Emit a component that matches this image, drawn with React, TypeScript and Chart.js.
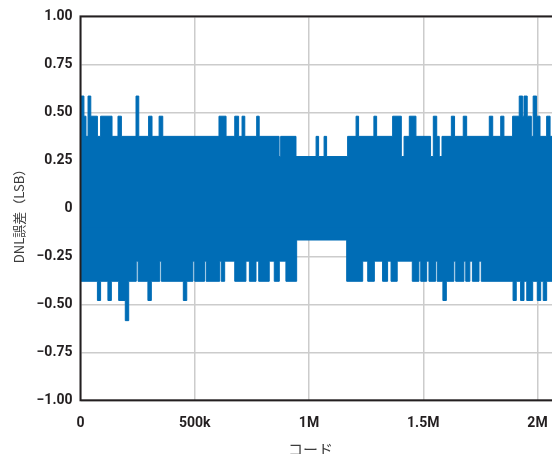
import React, { useEffect, useRef } from "react";
import { Chart, registerables } from "chart.js";

Chart.register(...registerables);

// Upper envelope of the DNL error: code (thousands) where each level starts
const upperCodesK = [
  0, 15, 24, 33, 45, 74, 88, 138, 164, 179, 243, 255, 298, 313, 344, 360,
  606, 637, 675, 692, 707, 719, 771, 782, 869, 876, 943, 1031, 1042, 1066,
  1077, 1169, 1206, 1217, 1284, 1296, 1366, 1404, 1416, 1439, 1468, 1532,
  1544, 1559, 1570, 1582, 1623, 1637, 1675, 1690, 1789, 1804, 1839, 1853,
  1891, 1920, 1935, 1941, 1955, 1973, 1981, 1996, 2011, 2040, 2055,
];
const upperLevels = [
  0.585, 0.48, 0.375, 0.585, 0.48, 0.375, 0.48, 0.375, 0.48, 0.375, 0.585,
  0.375, 0.48, 0.375, 0.48, 0.375, 0.48, 0.375, 0.48, 0.375, 0.48, 0.375,
  0.48, 0.375, 0.27, 0.375, 0.27, 0.375, 0.27, 0.375, 0.27, 0.375, 0.48,
  0.375, 0.48, 0.375, 0.48, 0.27, 0.375, 0.48, 0.375, 0.27, 0.48, 0.375,
  0.27, 0.375, 0.48, 0.375, 0.48, 0.375, 0.48, 0.375, 0.48, 0.375, 0.48,
  0.585, 0.48, 0.585, 0.48, 0.375, 0.585, 0.48, 0.375, 0.48, 0.375,
];

// Lower envelope of the DNL error: code (thousands) where each level starts
const lowerCodesK = [
  0, 74, 88, 120, 135, 167, 196, 211, 244, 252, 295, 310, 347, 354, 450, 465,
  492, 500, 543, 550, 609, 616, 631, 675, 724, 739, 768, 780, 826, 848, 870,
  899, 946, 1165, 1235, 1257, 1286, 1322, 1344, 1359, 1386, 1452, 1481, 1489,
  1515, 1525, 1554, 1561, 1586, 1601, 1634, 1642, 1678, 1686, 1704, 1715,
  1744, 1754, 1893, 1907, 1926, 1941, 1953, 1979, 1999, 2014, 2025, 2040,
];
const lowerLevels = [
  -0.38, -0.48, -0.38, -0.48, -0.38, -0.48, -0.585, -0.38, -0.275, -0.38,
  -0.48, -0.38, -0.275, -0.38, -0.48, -0.38, -0.275, -0.38, -0.275, -0.38,
  -0.275, -0.38, -0.275, -0.38, -0.275, -0.38, -0.275, -0.38, -0.275, -0.38,
  -0.275, -0.38, -0.165, -0.38, -0.275, -0.38, -0.275, -0.38, -0.275, -0.38,
  -0.275, -0.38, -0.275, -0.38, -0.275, -0.38, -0.275, -0.38, -0.48, -0.38,
  -0.275, -0.38, -0.275, -0.38, -0.275, -0.38, -0.275, -0.38, -0.48, -0.38,
  -0.48, -0.38, -0.48, -0.38, -0.48, -0.38, -0.48, -0.38,
];

const lastCode = 2097152;

const xTickValues = [0, 500000, 1000000, 1500000, 2000000];
const xTickLabels = ["0", "500k", "1M", "1.5M", "2M"];
const yTickValues = [-1, -0.75, -0.5, -0.25, 0, 0.25, 0.5, 0.75, 1];
const yTickLabels = ["\u22121.00", "\u22120.75", "\u22120.50", "\u22120.25", "0", "0.25", "0.50", "0.75", "1.00"];

const xTitle = "コード";
const yTitle = "DNL誤差（LSB）";

const BLUE = "#006db6";

function toPoints(codesK: number[], levels: number[]) {
  const pts = codesK.map((k, i) => ({ x: k * 1000, y: levels[i] }));
  pts.push({ x: lastCode, y: levels[levels.length - 1] });
  return pts;
}

export default function App() {
  const ref = useRef<HTMLCanvasElement | null>(null);

  useEffect(() => {
    if (!ref.current) return;
    const tickFont = { family: "Roboto", weight: "bold" as const, size: 14 };
    const framePlugin = {
      id: "frameAndTitles",
      afterDatasetsDraw(chart: any) {
        const { ctx, chartArea: a } = chart;
        ctx.save();
        ctx.strokeStyle = "#231f20";
        ctx.lineWidth = 2;
        ctx.strokeRect(a.left, a.top, a.right - a.left, a.bottom - a.top);
        ctx.restore();
      },
      afterDraw(chart: any) {
        const { ctx } = chart;
        ctx.save();
        ctx.fillStyle = "#3c3c3c";
        ctx.font = "13px 'Noto Sans CJK JP'";
        ctx.textAlign = "center";
        ctx.textBaseline = "middle";
        ctx.translate(18.7, 213);
        ctx.rotate(-Math.PI / 2);
        ctx.fillText(yTitle, 0, 0);
        ctx.restore();
        ctx.save();
        ctx.fillStyle = "#3c3c3c";
        ctx.font = "15px 'Noto Sans CJK JP'";
        ctx.textAlign = "center";
        ctx.textBaseline = "middle";
        ctx.fillText(xTitle, 310.5, 449);
        ctx.restore();
      },
    };

    const chart = new Chart(ref.current, {
      type: "line",
      data: {
        datasets: [
          {
            data: toPoints(upperCodesK, upperLevels),
            stepped: true,
            borderColor: BLUE,
            backgroundColor: BLUE,
            borderWidth: 1,
            pointRadius: 0,
            fill: { value: -0.1 },
          },
          {
            data: toPoints(lowerCodesK, lowerLevels),
            stepped: true,
            borderColor: BLUE,
            backgroundColor: BLUE,
            borderWidth: 1,
            pointRadius: 0,
            fill: { value: 0.1 },
          },
        ],
      },
      options: {
        animation: false,
        responsive: false,
        devicePixelRatio: 1,
        layout: { padding: { left: 0, top: 16.3, right: 40.3, bottom: 0 } },
        plugins: { legend: { display: false }, tooltip: { enabled: false } },
        scales: {
          x: {
            type: "linear",
            min: 0,
            max: lastCode,
            afterBuildTicks: (s: any) => {
              s.ticks = xTickValues.map((v) => ({ value: v }));
            },
            afterFit: (s: any) => {
              s.height = 53.7;
            },
            ticks: {
              callback: (_v: any, i: number) => xTickLabels[i],
              font: tickFont,
              color: "#231f20",
              padding: 15,
              maxRotation: 0,
              autoSkip: false,
            },
            grid: { color: "#cccccc", lineWidth: 1.5, drawTicks: false },
            border: { display: false },
          },
          y: {
            min: -1,
            max: 1,
            afterBuildTicks: (s: any) => {
              s.ticks = yTickValues.map((v) => ({ value: v }));
            },
            afterFit: (s: any) => {
              s.width = 80.5;
            },
            ticks: {
              callback: (_v: any, i: number) => yTickLabels[i],
              font: tickFont,
              color: "#231f20",
              padding: 8,
              autoSkip: false,
            },
            grid: { color: "#cccccc", lineWidth: 1.5, drawTicks: false },
            border: { display: false },
          },
        },
      },
      plugins: [framePlugin],
    } as any);
    return () => chart.destroy();
  }, []);

  return (
    <div
      style={{
        position: "absolute",
        left: 0,
        top: 0,
        width: 552,
        height: 454,
        overflow: "hidden",
        background: "#fff",
      }}
    >
      <canvas ref={ref} width={600} height={454} style={{ width: 600, height: 454, display: "block" }} />
    </div>
  );
}
